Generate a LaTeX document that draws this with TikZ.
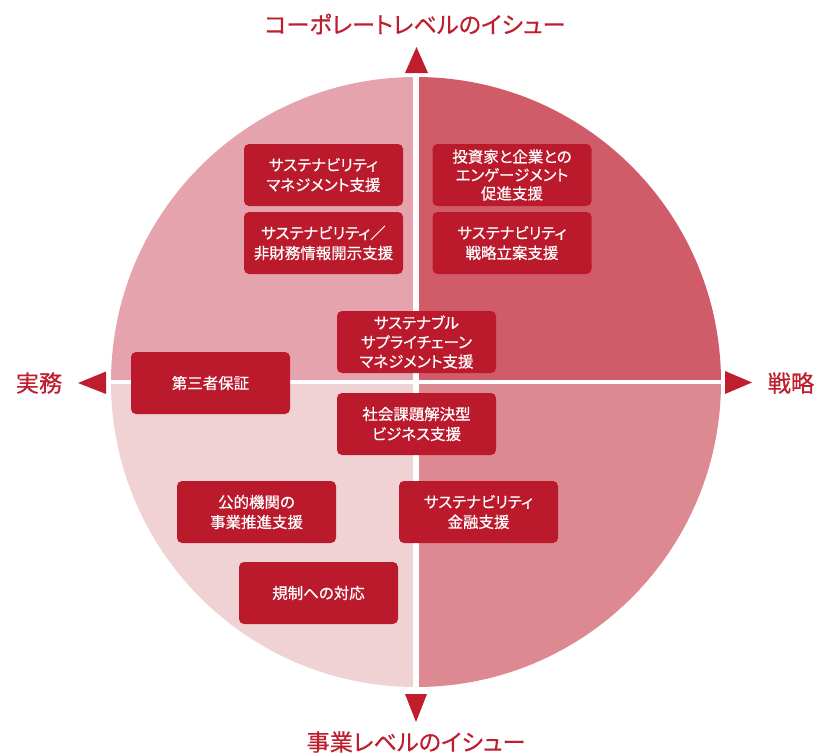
\documentclass[tikz,border=0pt]{standalone}
\usepackage{fontspec}
\setmainfont{Noto Sans CJK JP}
\newfontfamily\boxfont[FakeBold=0.6,RawFeature=+palt]{Noto Sans CJK JP}
\newfontfamily\labfont[FakeBold=0.4,RawFeature=+palt]{Noto Sans CJK JP}
\definecolor{qTL}{HTML}{E5A4AD}
\definecolor{qTR}{HTML}{D05C69}
\definecolor{qBL}{HTML}{F0D2D5}
\definecolor{qBR}{HTML}{DC8991}
\definecolor{boxred}{HTML}{BA1A2B}
\definecolor{labred}{HTML}{BE1E2D}
\tikzset{
  box/.style={fill=boxred, rounded corners=3.75pt, minimum width=119.25pt, minimum height=46.5pt,
    inner sep=0pt, align=center, text=white, font=\boxfont\fontsize{11.6}{15}\selectfont},
  axislabel/.style={text=labred, inner sep=0pt, font=\labfont\fontsize{17.4}{20}\selectfont},
  tri/.style={fill=labred}
}
\begin{document}
\begin{tikzpicture}[x=0.75pt,y=-0.75pt]
\useasboundingbox (0,0) rectangle (829,753);
\begin{scope}
  \clip (416,382) circle (228.75pt);
  \fill[qTL] (100,60) rectangle (416,382);
  \fill[qTR] (416,60) rectangle (730,382);
  \fill[qBL] (100,382) rectangle (416,700);
  \fill[qBR] (416,382) rectangle (730,700);
  \draw[white, line width=3.9pt] (416,70) -- (416,700);
  \draw[white, line width=3.6pt] (100,382) -- (730,382);
\end{scope}
% arrows
\fill[tri] (405,73) -- (428,73) -- (416.5,47) -- cycle;
\fill[tri] (106,371.5) -- (106,394) -- (78,383) -- cycle;
\fill[tri] (725,371) -- (725,394) -- (752,382.5) -- cycle;
\fill[tri] (405,694) -- (427,694) -- (416,722) -- cycle;
% axis labels
\node[axislabel] (top) at (415,24) {コーポレートレベルのイシュー};
\node[axislabel] (left) at (39,383) {実務};
\node[axislabel] (right) at (791,383) {戦略};
\node[axislabel] (bottom) at (416,742) {事業レベルのイシュー};
% boxes
\node[box] (b1) at (323.5,175) {サステナビリティ\\マネジメント支援};
\node[box] (b2) at (323.5,243) {サステナビリティ／\\非財務情報開示支援};
\node[box, font=\boxfont\fontsize{11.6}{13.8}\selectfont] (b3) at (512,175) {投資家と企業との\\エンゲージメント\\促進支援};
\node[box] (b4) at (512,243) {サステナビリティ\\戦略立案支援};
\node[box, font=\boxfont\fontsize{11.6}{14.5}\selectfont] (b5) at (416.5,342) {サステナブル\\サプライチェーン\\マネジメント支援};
\node[box] (b6) at (210.5,383) {第三者保証};
\node[box] (b7) at (416.5,424) {社会課題解決型\\ビジネス支援};
\node[box] (b8) at (256.5,512) {公的機関の\\事業推進支援};
\node[box] (b9) at (478.5,512) {サステナビリティ\\金融支援};
\node[box] (b10) at (318.5,593) {規制への対応};
\end{tikzpicture}
\end{document}
